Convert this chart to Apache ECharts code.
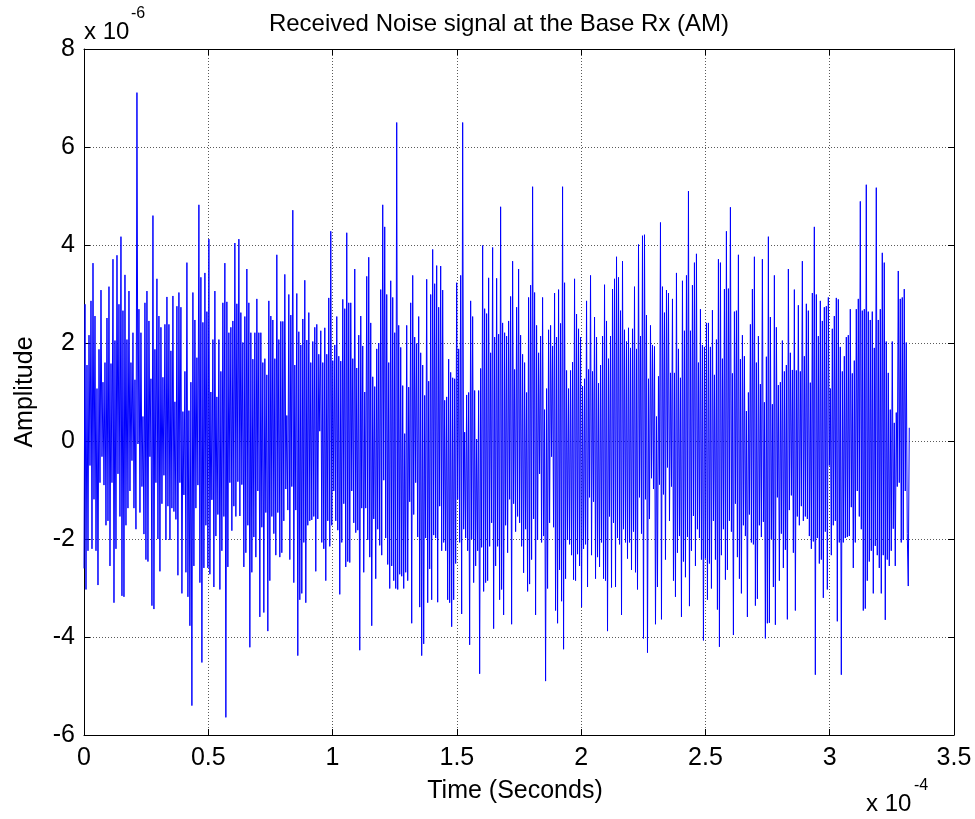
<!DOCTYPE html>
<html>
<head>
<meta charset="utf-8">
<script src="https://cdn.jsdelivr.net/npm/echarts@6/dist/echarts.min.js"></script>
<style>
  html, body { margin: 0; padding: 0; background: #fff; }
  #chart { width: 975px; height: 819px; }
</style>
</head>
<body>
<div id="chart"></div>
<script>
// received noise, amplitude in units of 1e-6
// t = 0 .. 0.58e-4
const amp1 = [-2.6,
  2.79, -3.03, 1.55, -2.24, 2.16, -0.50, 2.86, -2.20, 3.63, -1.19, 2.55, -2.24,
  1.07, -2.94, 1.87, -0.85, 3.08, -0.32, 1.2, -0.9, 1.60, -1.72, 2.51, -1.63, 3.15, -2.55,
  1.58, -0.85, 3.71, -3.30, 2.05, -2.20, 3.79, -0.67, 2.79, -1.54, 4.17, -3.16,
  2.66, -3.18, 3.39, -1.72, 2.07, -1.37, 3.06, -1.02, 1.6, -0.4, 2.21, -1.37, 1.25, -1.80,
  7.11, -0.06, 2.69, -1.46, 2.21, -0.93, 0.5, -1.9, 2.82, -2.42, 3.06, -2.46, 2.45, -0.32,
  1.27, -3.36, 4.60, -3.43, 1.87, -0.85, 3.31, -2.00, 2.55, -2.66, 2.32, -1.28, 1.3, -0.7,
  2.38, -2.02, 2.94, -1.33, 2.38, -2.02, 1.84, -1.37, 2.96, -1.44, 0.8, -1.6, 2.75, -2.74,
  3.03, -0.85, 2.73, -3.11, 0.6, -1.1, 1.42, -2.68, 3.64, -3.18, 0.62, -3.77, 1.20, -5.40, 3.03, -2.55,
  2.47, -1.37, 1.7, -0.9, 4.82, -2.89, 3.34, -4.52, 2.42, -2.59, 3.43, -1.72, 2.64, -2.59,
  4.12, -2.72, 1.0, -1.2, 2.07, -2.98, 3.06, -1.94, 0.9, -1.5, 2.07, -3.03, 1.42, -2.24, 2.82, -1.54];

// t = 0.58e-4 .. 1.14e-4
const amp2 = [
  3.63, -5.64, 2.84, -2.57, 2.21, -0.85, 2.32, -1.83, 2.45, -1.33, 4.04, -1.54, 2.80, -0.83,
  4.12, -1.53, 2.62, -0.89, 2.01, -2.57, 2.54, -2.28, 3.51, -1.72, 2.82, -4.21, 2.21, -2.68,
  1.67, -1.96, 2.21, -2.37, 2.90, -1.02, 2.21, -3.59, 2.21, -1.76, 1.60, -3.50, 1.68, -1.46,
  1.35, -3.88, 2.86, -2.85, 2.55, -1.54, 2.47, -1.89, 1.68, -2.33, 3.80, -1.46, 2.07, -2.37,
  2.44, -2.28, 2.44, -1.63, 3.40, -0.98, 0.52, -1.41, 2.99, -2.42, 2.57, -0.93, 4.71, -2.89,
  1.55, -1.41, 3.01, -4.38, 2.23, -3.24, 1.96, -3.11, 2.49, -2.07, 3.28, -3.30, 2.06, -1.72,
  2.62, -1.63, 1.60, -1.61, 2.03, -1.54, 2.32, -2.66, 2.38, -1.59, 1.77, 0.20, 2.25, -2.07,
  1.60, -2.20, 2.31, -2.85, 1.77, -1.63, 2.92, -2.15, 4.28, -1.72, 1.64, -1.02, 1.96, -1.63,
  2.54, -1.82, 1.73, -3.13, 1.63, -2.07, 2.89, -1.28, 2.70, -2.57, 4.25, -2.46, 2.82, -2.48,
  2.82, -1.02, 1.68, -1.67, 3.51, -1.87, 1.49, -1.82, 2.16, -4.27, 2.55, -1.37, 1.94, -2.68];

// t = 1.14e-4 .. 1.68e-4
const amp3 = [
  1.00, -1.37, 3.36, -2.02, 3.75, -2.37, 2.41, -3.77, 1.31, -1.59, 1.11, -2.81, 1.88, -1.80,
  2.00, -2.13, 3.09, -2.33, 4.82, -0.80, 4.37, -1.98, 2.99, -2.52, 1.60, -3.01, 3.27, -2.55,
  2.93, -2.85, 2.21, -3.01, 6.50, -3.03, 2.36, -2.72, 1.91, -2.76, 1.13, -3.01, 0.15, -2.68,
  2.36, -2.85, 1.10, -1.24, 2.82, -3.72, 3.38, -1.50, 2.12, -0.85, 1.99, -1.96, 2.54, -3.39,
  1.80, -4.38, 1.55, -4.14, 0.93, -1.98, 3.30, -3.30, 1.22, -2.61, 2.99, -3.24, 3.91, -1.92,
  3.21, -1.98, 3.58, -3.29, 2.73, -1.33, 3.57, -2.24, 3.08, -2.07, 0.83, -2.24, 0.90, -3.24,
  1.67, -3.30, 1.40, -3.79, 1.29, -3.24, 1.27, -2.50, 3.23, -1.19, 1.88, -2.07, 3.38, -3.53,
  6.50, -1.80, 0.18, -1.98, 0.94, -2.24, 0.99, -4.16, 2.86, -2.00, 2.54, -2.89, 1.03, -2.55,
  0.04, -2.24, 1.03, -4.75, 1.48, -2.17, 3.99, -3.07, 2.70, -2.89, 2.60, -2.85, 3.33, -2.15,
  1.80, -1.67, 3.95, -3.83, 2.12, -2.55, 3.32, -2.15, 2.18, -3.24];

// t = 1.68e-4 .. 2.25e-4
const amp4 = [
  4.78, -3.03, 2.41, -3.55, 2.21, -1.72, 2.14, -2.28, 2.45, -1.19, 2.95, -3.74, 3.67, -1.28,
  1.46, -1.85, 2.73, -1.54, 3.51, -1.67, 2.16, -2.15, 1.77, -2.69, 1.60, -1.80, 0.99, -3.07,
  2.93, -2.92, 3.18, -2.42, 5.19, -1.59, 3.03, -3.55, 2.36, -2.02, 1.80, -0.67, 2.14, -2.07,
  2.93, -1.94, 0.64, -4.90, 1.07, -3.01, 2.27, -1.67, 2.36, -0.32, 1.94, -1.76, 3.02, -3.46,
  2.12, -3.72, 3.09, -2.63, 2.40, -3.27, 5.19, -4.25, 3.23, -2.81, 1.44, -2.02, 1.07, -2.11,
  1.44, -2.33, 1.61, -2.83, 3.31, -2.85, 2.59, -2.31, 2.29, -2.55, 2.12, -3.39, 1.12, -2.20,
  1.27, -2.11, 2.86, -2.98, 1.46, -1.15, 3.38, -2.33, 1.42, -1.24, 2.53, -2.81, 2.12, -2.37,
  1.18, -2.57, 1.55, -2.07, 2.14, -2.81, 3.19, -2.85, 2.45, -3.88, 1.68, -1.54, 2.14, -2.99,
  3.10, -1.67, 3.31, -2.98, 3.76, -1.98, 3.34, -2.11, 2.66, -3.55, 3.67, -1.80, 2.27, -2.07,
  2.03, -2.40, 2.31, -2.07, 1.90, -2.63, 2.29, -1.85, 3.15, -2.68, 1.88, -3.03, 4.01, -1.15,
  2.14, -1.89, 4.19, -4.03];

// t = 2.25e-4 .. 2.82e-4
const amp5 = [
  4.21, -1.19, 2.57, -4.32, 1.27, -1.59, 2.36, -0.76, 1.96, -0.98, 1.93, -3.74, 0.50, -2.98,
  1.32, -0.89, 4.46, -3.64, 3.15, -1.09, 2.62, -2.42, 3.08, -0.54, 3.02, -1.63, 1.39, -0.93,
  2.90, -2.85, 1.39, -3.18, 3.43, -2.28, 1.88, -1.94, 1.29, -3.59, 3.27, -2.46, 2.25, -2.78,
  3.38, -1.96, 5.10, -3.37, 2.25, -2.24, 3.18, -1.53, 3.64, -2.55, 3.82, -1.80, 1.60, -1.98,
  2.69, -2.42, 1.96, -4.07, 1.92, -2.40, 2.41, -3.24, 2.41, -2.50, 1.92, -3.01, 2.67, -1.63,
  1.35, -2.42, 2.07, -3.44, 3.71, -4.20, 3.64, -2.33, 1.68, -1.80, 3.10, -2.83, 4.28, -2.63,
  3.11, -1.63, 4.77, -1.85, 1.38, -3.96, 2.64, -1.28, 2.66, -2.37, 3.80, -2.81, 1.67, -3.11,
  2.16, -1.72, 1.73, -1.94, 0.61, -3.59, 0.99, -1.50, 2.38, -2.07, 3.10, -2.11, 3.76, -3.36,
  1.60, -3.22, 2.14, -1.72, 1.16, -1.96, 3.71, -1.65, 0.79, -4.03, 1.72, -3.72, 4.17, -3.71,
  2.53, -2.00, 0.75, -2.98, 3.38, -3.75, 2.32, -1.15, 1.14, -2.85, 1.20, -1.89, 2.05, -2.59];

// t = 2.82e-4 .. 3.32e-4
const amp6 = [
  1.42, -2.22, 1.55, -3.64, 3.51, -1.41, 1.80, -1.11, 1.45, -2.28, 3.09, -3.46, 1.44, -1.54,
  2.77, -1.72, 1.42, -1.33, 3.67, -1.63, 1.73, -1.54, 2.80, -1.59, 2.66, -1.94, 1.19, -2.20,
  3.02, -2.05, 4.37, -4.77, 2.99, -1.98, 2.14, -2.50, 2.86, -2.42, 2.45, -3.20, 2.73, -1.85,
  2.75, -3.03, 2.93, -0.50, 1.07, -2.33, 2.29, -1.72, 2.55, -1.63, 2.92, -3.68, 2.89, -2.07,
  1.92, -4.77, 1.42, -2.07, 1.73, -1.98, 2.12, -1.96, 2.16, -1.94, 2.69, -1.35, 1.38, -2.59,
  1.64, -2.07, 2.69, -1.02, 2.90, -1.54, 4.89, -1.80, 2.66, -3.46, 2.69, -3.42, 5.23, -2.85,
  2.64, -2.46, 2.47, -2.24, 2.64, -3.11, 1.90, -2.14, 5.17, -2.33, 2.47, -2.59, 2.69, -3.11,
  3.84, -2.33, 3.64, -3.65, 2.03, -2.42, 1.39, -2.55, 0.64, -2.24, 2.03, -1.79, 0.37, -2.55,
  0.58, -0.93, 3.47, -0.85, 2.90, -2.07, 2.93, -2.02, 3.10, -1.02, 2.01, -1.89, -2.96, 0.27];

// time axis in units of 1e-4 s
const tEnd = 3.32;
const xTicks = { min: 0, max: 3.5, step: 0.5 };
const yTicks = { min: -6, max: 8, step: 2 };

const amp = [].concat(amp1, amp2, amp3, amp4, amp5, amp6);
const dt = tEnd / (amp.length - 1);
const points = amp.map((v, i) => [i * dt, v]);

const font = 'Liberation Sans, Arial, Helvetica, sans-serif';
const gridLine = { show: true, lineStyle: { color: '#5a5a5a', type: [1, 2], width: 1 } };
const frame = { show: true, onZero: false, lineStyle: { color: '#000', width: 1 } };
const tick = { show: true, inside: true, length: 6, lineStyle: { color: '#000' } };

const option = {
  animation: false,
  backgroundColor: '#fff',
  grid: { left: 84, right: 21, top: 49, bottom: 84 },
  xAxis: [
    {
      type: 'value', position: 'bottom',
      min: xTicks.min, max: xTicks.max, interval: xTicks.step,
      axisLine: frame, axisTick: tick, splitLine: gridLine,
      axisLabel: { fontSize: 25, color: '#000', fontFamily: font, margin: 11 }
    },
    {
      type: 'value', position: 'top',
      min: xTicks.min, max: xTicks.max, interval: xTicks.step,
      axisLine: frame, axisTick: tick, splitLine: { show: false },
      axisLabel: { show: false }
    }
  ],
  yAxis: [
    {
      type: 'value', position: 'left',
      min: yTicks.min, max: yTicks.max, interval: yTicks.step,
      axisLine: frame, axisTick: tick, splitLine: gridLine,
      axisLabel: { fontSize: 25, color: '#000', fontFamily: font, margin: 9 }
    },
    {
      type: 'value', position: 'right',
      min: yTicks.min, max: yTicks.max, interval: yTicks.step,
      axisLine: frame, axisTick: tick, splitLine: { show: false },
      axisLabel: { show: false }
    }
  ],
  series: [{
    type: 'line',
    data: points,
    xAxisIndex: 0,
    yAxisIndex: 0,
    showSymbol: false,
    symbol: 'none',
    sampling: null,
    lineStyle: { color: '#0000ff', width: 1 }
  }],
  graphic: [
    { type: 'text', x: 499, y: 24, style: { text: 'Received Noise signal at the Base Rx (AM)', font: '24px ' + font, fill: '#000', textAlign: 'center', textVerticalAlign: 'middle' } },
    { type: 'text', x: 84, y: 32, style: { text: 'x 10', font: '24px ' + font, fill: '#000', textAlign: 'left', textVerticalAlign: 'middle' } },
    { type: 'text', x: 131, y: 14, style: { text: '-6', font: '16px ' + font, fill: '#000', textAlign: 'left', textVerticalAlign: 'middle' } },
    { type: 'text', x: 866, y: 804, style: { text: 'x 10', font: '24px ' + font, fill: '#000', textAlign: 'left', textVerticalAlign: 'middle' } },
    { type: 'text', x: 914, y: 786, style: { text: '-4', font: '16px ' + font, fill: '#000', textAlign: 'left', textVerticalAlign: 'middle' } },
    { type: 'text', x: 515, y: 791, style: { text: 'Time (Seconds)', font: '25px ' + font, fill: '#000', textAlign: 'center', textVerticalAlign: 'middle' } },
    { type: 'text', x: 25, y: 392, rotation: Math.PI / 2, style: { text: 'Amplitude', font: '25px ' + font, fill: '#000', textAlign: 'center', textVerticalAlign: 'middle' } }
  ]
};

echarts.init(document.getElementById('chart')).setOption(option);
</script>
</body>
</html>
